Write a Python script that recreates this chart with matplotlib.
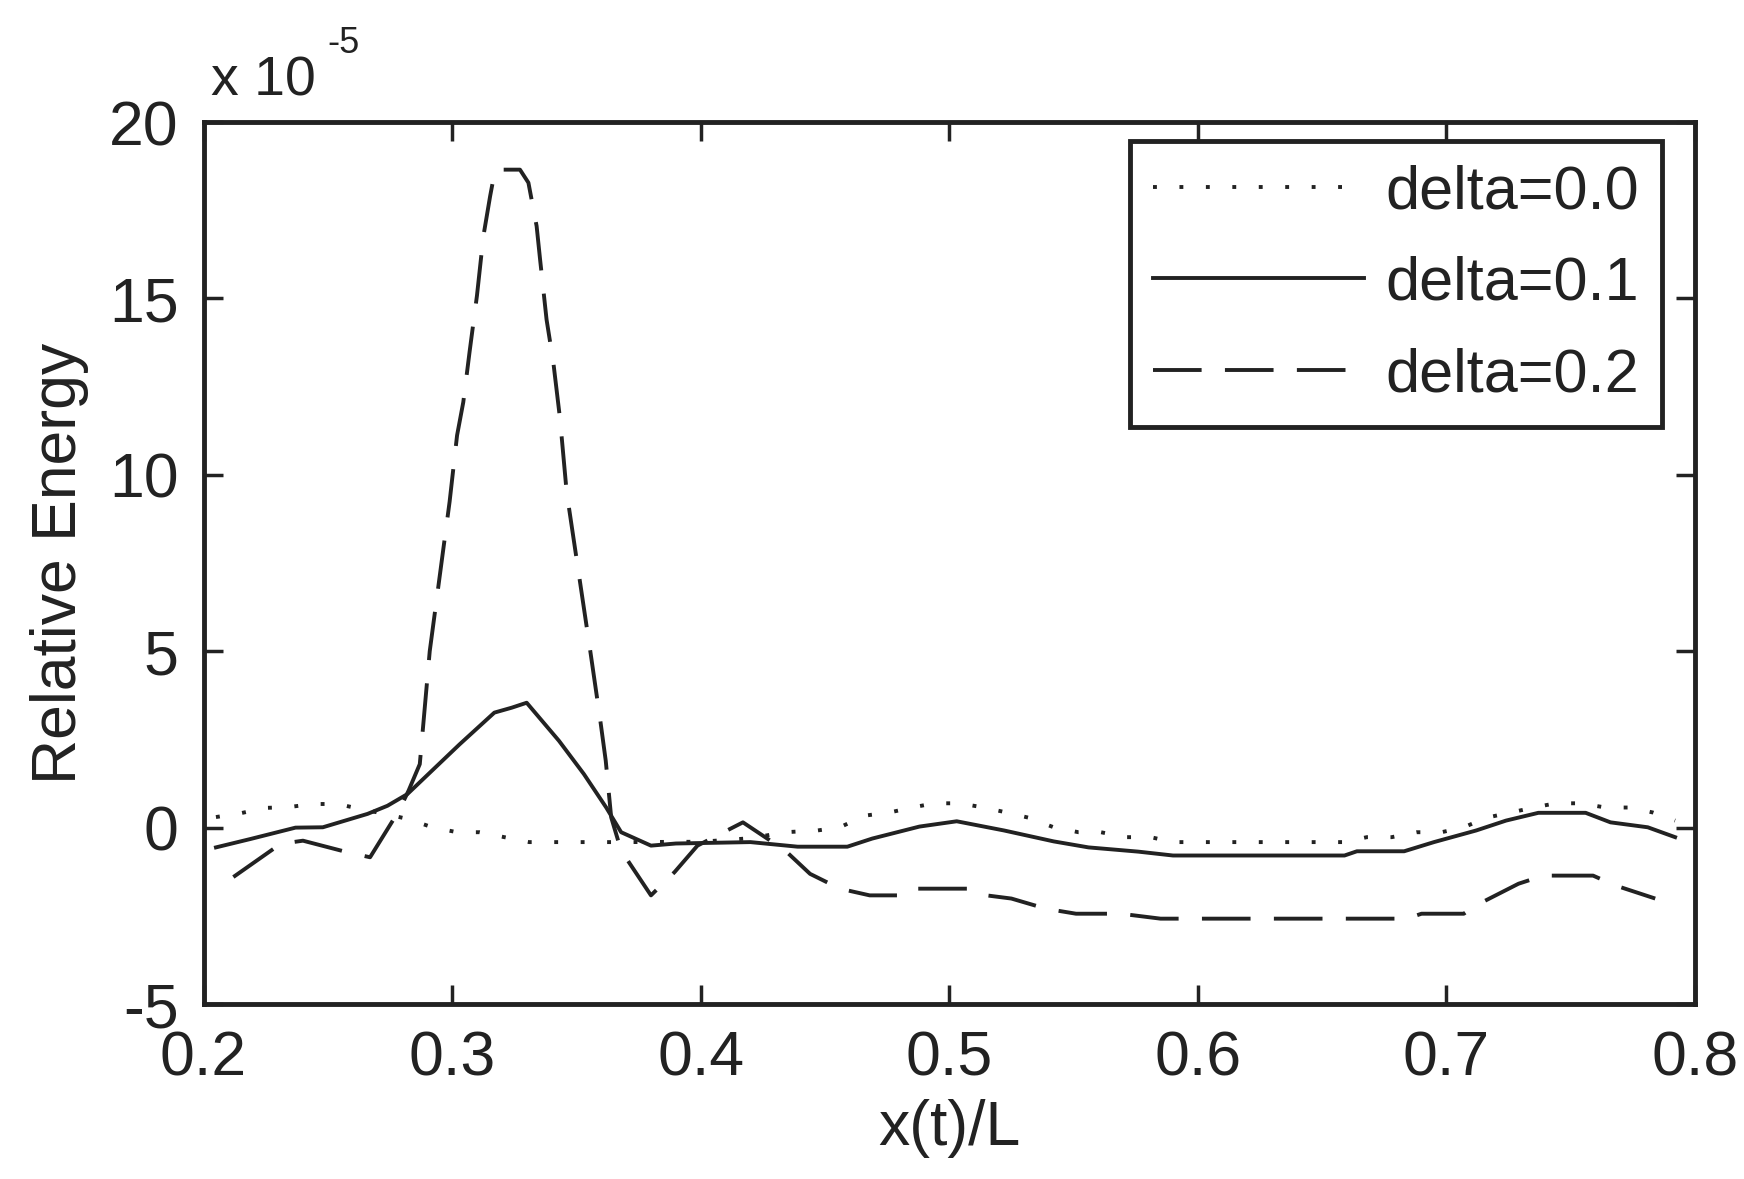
import matplotlib
matplotlib.use('Agg')
import matplotlib.pyplot as plt

plt.rcParams['font.family'] = ['Liberation Sans', 'DejaVu Sans']

# relative energy, in units of 1e-5
x_d00 = [0.205, 0.215, 0.225, 0.234, 0.244, 0.254, 0.263, 0.273, 0.2825, 0.292,
         0.302, 0.311, 0.321, 0.331, 0.36, 0.37, 0.40, 0.42, 0.434, 0.447,
         0.456, 0.466, 0.476, 0.485, 0.494, 0.504, 0.514, 0.523, 0.532, 0.542,
         0.552, 0.561, 0.571, 0.581, 0.590, 0.659, 0.668, 0.678, 0.688, 0.698,
         0.707, 0.716, 0.726, 0.735, 0.744, 0.754, 0.764, 0.774, 0.783, 0.792]
e_d00 = [0.3, 0.41, 0.56, 0.58, 0.67, 0.67, 0.53, 0.39, 0.24, 0.01,
         -0.13, -0.13, -0.27, -0.41, -0.41, -0.41, -0.4, -0.3, -0.13, -0.08,
         0.01, 0.34, 0.43, 0.57, 0.69, 0.69, 0.57, 0.43, 0.28, 0.01,
         -0.13, -0.13, -0.27, -0.27, -0.41, -0.41, -0.27, -0.27, -0.13, -0.13,
         0.01, 0.28, 0.43, 0.57, 0.69, 0.69, 0.57, 0.57, 0.43, 0.2]

x_d01 = [0.205, 0.219, 0.237, 0.248, 0.257, 0.266, 0.274, 0.282, 0.289, 0.303,
         0.317, 0.324, 0.330, 0.343, 0.353, 0.362, 0.368, 0.380, 0.390, 0.420,
         0.439, 0.459, 0.469, 0.488, 0.503, 0.522, 0.542, 0.556, 0.576, 0.590,
         0.659, 0.664, 0.683, 0.695, 0.712, 0.724, 0.737, 0.756, 0.766, 0.781,
         0.792]
e_d01 = [-0.56, -0.32, 0.0, 0.01, 0.2, 0.39, 0.62, 0.95, 1.42, 2.36,
         3.26, 3.4, 3.54, 2.46, 1.52, 0.57, -0.13, -0.51, -0.45, -0.41,
         -0.54, -0.54, -0.31, 0.03, 0.18, -0.08, -0.39, -0.56, -0.68, -0.79,
         -0.79, -0.67, -0.67, -0.41, -0.08, 0.2, 0.42, 0.42, 0.15, 0.01,
         -0.27]

x_d02 = [0.212, 0.231, 0.240, 0.258, 0.267, 0.2786, 0.2825, 0.287, 0.291, 0.299,
         0.302, 0.3045, 0.307, 0.310, 0.3126, 0.3153, 0.3173, 0.3273, 0.3307, 0.334,
         0.3354, 0.338, 0.3407, 0.3434, 0.3461, 0.3556, 0.3595, 0.3618, 0.364, 0.368,
         0.380, 0.3895, 0.3987, 0.417, 0.434, 0.444, 0.456, 0.468, 0.482, 0.486,
         0.498, 0.510, 0.515, 0.525, 0.539, 0.551, 0.569, 0.585, 0.684, 0.690,
         0.707, 0.712, 0.729, 0.739, 0.759, 0.768, 0.784]
e_d02 = [-1.4, -0.46, -0.37, -0.7, -0.84, 0.48, 1.05, 1.8, 5.0, 9.24,
         11.12, 12.06, 13.47, 15.08, 16.77, 17.9, 18.65, 18.65, 18.28, 17.05,
         16.1, 14.4, 13.2, 11.6, 9.5, 5.0, 3.1, 1.9, 0.29, -0.65,
         -1.92, -1.26, -0.51, 0.15, -0.65, -1.31, -1.73, -1.92, -1.92, -1.73,
         -1.73, -1.73, -1.92, -2.01, -2.3, -2.44, -2.44, -2.58, -2.58, -2.44,
         -2.44, -2.2, -1.59, -1.36, -1.36, -1.64, -2.01]

xticks = [0.2, 0.3, 0.4, 0.5, 0.6, 0.7, 0.8]
yticks = [-5, 0, 5, 10, 15, 20]

ink = '#222222'
fs = 45
lw = 2.8

fig = plt.figure(figsize=(17.44, 11.79), dpi=100)
ax = fig.add_axes([0.1167, 0.1484, 0.9719 - 0.1167, 0.8965 - 0.1484])

ax.plot(x_d00, e_d00, color=ink, lw=lw, linestyle=(0, (1, 5.8)), label='delta=0.0')
ax.plot(x_d01, e_d01, color=ink, lw=lw, linestyle='-', label='delta=0.1')
ax.plot(x_d02, e_d02, color=ink, lw=lw, linestyle=(0, (12.5, 6)), label='delta=0.2')

ax.set_xlim(0.2, 0.8)
ax.set_ylim(-5, 20)
ax.set_xticks(xticks)
ax.set_xticklabels([f'{t:.1f}' for t in xticks])
ax.set_yticks(yticks)
ax.set_yticklabels([str(t) for t in yticks])
ax.tick_params(direction='in', length=14, width=2.5, color=ink, labelcolor=ink,
               labelsize=fs, top=True, right=True, pad=18)
for s in ax.spines.values():
    s.set_linewidth(3.5)
    s.set_color(ink)

ax.set_xlabel('x(t)/L', fontsize=fs, color=ink, labelpad=8)
ax.set_ylabel('Relative Energy', fontsize=fs, color=ink, labelpad=14)

# exponent label above the y axis
ax.text(0.005, 1.03, 'x 10', transform=ax.transAxes, fontsize=40, color=ink,
        ha='left', va='baseline')
ax.text(0.083, 1.078, '-5', transform=ax.transAxes, fontsize=26, color=ink,
        ha='left', va='baseline')

leg = ax.legend(loc='upper right', bbox_to_anchor=(0.978, 0.978), fontsize=44,
                frameon=True, fancybox=False, framealpha=1, handlelength=3.45,
                handletextpad=0.35, labelspacing=0.56, borderpad=0.38,
                borderaxespad=0)
leg.get_frame().set_edgecolor(ink)
leg.get_frame().set_linewidth(3.5)
for t in leg.get_texts():
    t.set_color(ink)

fig.savefig('out.png', dpi=100)
